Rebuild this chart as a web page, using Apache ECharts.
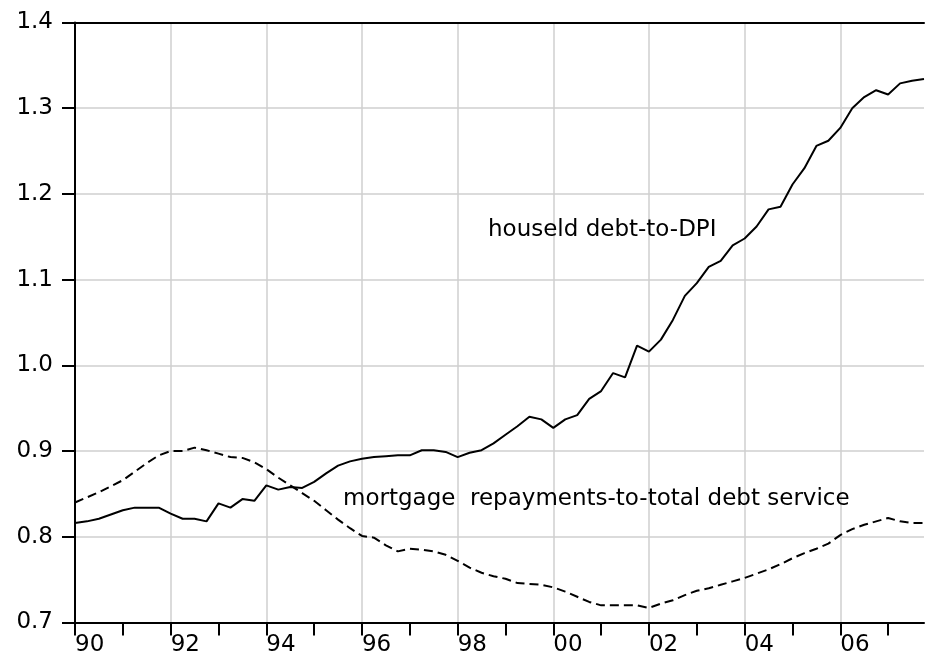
<!DOCTYPE html>
<html>
<head>
<meta charset="utf-8">
<script src="https://cdn.jsdelivr.net/npm/echarts@6/dist/echarts.min.js"></script>
<style>html,body{margin:0;padding:0;background:#fff}#c{width:925px;height:668px}</style>
</head>
<body>
<div id="c"></div>
<script>
// Quarterly observations 1990Q1 .. 2007Q4
const years = [1990,1991,1992,1993,1994,1995,1996,1997,1998,1999,2000,2001,2002,2003,2004,2005,2006,2007];
const quarters = ['Q1','Q2','Q3','Q4'];
const categories = [];
years.forEach(y => quarters.forEach(q => categories.push(y + q)));

// household debt-to-DPI (solid)
const debtToDPI = [
  0.816,0.818,0.821,0.826, 0.831,0.834,0.834,0.834,
  0.827,0.821,0.821,0.818, 0.839,0.834,0.844,0.842,
  0.860,0.855,0.858,0.857, 0.864,0.874,0.883,0.888,
  0.891,0.893,0.894,0.895, 0.895,0.901,0.901,0.899,
  0.893,0.898,0.901,0.909, 0.919,0.929,0.940,0.937,
  0.927,0.937,0.942,0.961, 0.970,0.991,0.986,1.023,
  1.016,1.030,1.053,1.081, 1.096,1.115,1.122,1.140,
  1.148,1.162,1.182,1.185, 1.211,1.230,1.256,1.262,
  1.277,1.300,1.313,1.321, 1.316,1.329,1.332,1.334
];

// mortgage repayments-to-total debt service (dashed)
const mortgageShare = [
  0.840,0.846,0.852,0.859, 0.866,0.876,0.886,0.895,
  0.900,0.900,0.904,0.901, 0.897,0.893,0.892,0.887,
  0.879,0.869,0.860,0.851, 0.842,0.831,0.820,0.810,
  0.801,0.799,0.790,0.783, 0.786,0.785,0.783,0.779,
  0.772,0.764,0.758,0.754, 0.751,0.746,0.745,0.744,
  0.741,0.736,0.730,0.724, 0.720,0.720,0.720,0.720,
  0.717,0.722,0.726,0.732, 0.737,0.740,0.744,0.748,
  0.752,0.757,0.762,0.768, 0.775,0.781,0.786,0.792,
  0.802,0.809,0.814,0.818, 0.822,0.818,0.816,0.816
];

const xTickLabels = ['90','92','94','96','98','00','02','04','06'];
const labelDebt = 'houseld debt-to-DPI';
const labelMortgage = 'mortgage  repayments-to-total debt service';

const FONT = '"DejaVu Sans", sans-serif';
const chart = echarts.init(document.getElementById('c'), null, {renderer: 'canvas'});
chart.setOption({
  animation: false,
  backgroundColor: '#fff',
  grid: {left: 75, right: 1, top: 22.5, bottom: 45.5, containLabel: false},
  xAxis: [{
    type: 'category',
    data: categories,
    boundaryGap: false,
    axisLine: {lineStyle: {color: '#000', width: 2}},
    axisTick: {interval: (i) => i % 4 === 0, length: 13, lineStyle: {color: '#000', width: 2}},
    axisLabel: {
      interval: (i) => i % 8 === 0,
      formatter: (v, i) => xTickLabels[Math.round(i / 8)],
      align: 'left', margin: 11, fontSize: 23, fontFamily: FONT, color: '#000'
    },
    splitLine: {show: true, interval: (i) => i % 8 === 0, lineStyle: {color: '#cfcfcf', width: 1.5}}
  }, {
    type: 'category',
    data: categories,
    position: 'top',
    boundaryGap: false,
    axisLine: {lineStyle: {color: '#000', width: 2}},
    axisTick: {show: false},
    axisLabel: {show: false},
    splitLine: {show: false}
  }],
  yAxis: {
    type: 'value',
    min: 0.7, max: 1.4, interval: 0.1,
    axisLine: {show: true, lineStyle: {color: '#000', width: 2}},
    axisTick: {show: true, length: 13, lineStyle: {color: '#000', width: 2}},
    axisLabel: {formatter: (v) => v.toFixed(1), margin: 22, fontSize: 23, fontFamily: FONT, color: '#000'},
    splitLine: {show: true, lineStyle: {color: '#cfcfcf', width: 1.5}}
  },
  series: [{
    name: labelDebt,
    type: 'line',
    data: debtToDPI,
    showSymbol: false,
    lineStyle: {color: '#000', width: 2, type: 'solid'},
    z: 3
  }, {
    name: labelMortgage,
    type: 'line',
    data: mortgageShare,
    showSymbol: false,
    lineStyle: {color: '#000', width: 2, type: [9, 5]},
    z: 3
  }],
  graphic: [{
    type: 'text', x: 488, y: 230, z: 10,
    style: {text: labelDebt, font: '23px ' + FONT, fill: '#000', align: 'left', verticalAlign: 'middle'}
  }, {
    type: 'text', x: 343, y: 499, z: 10,
    style: {text: labelMortgage, font: '23px ' + FONT, fill: '#000', align: 'left', verticalAlign: 'middle'}
  }]
});
</script>
</body>
</html>
